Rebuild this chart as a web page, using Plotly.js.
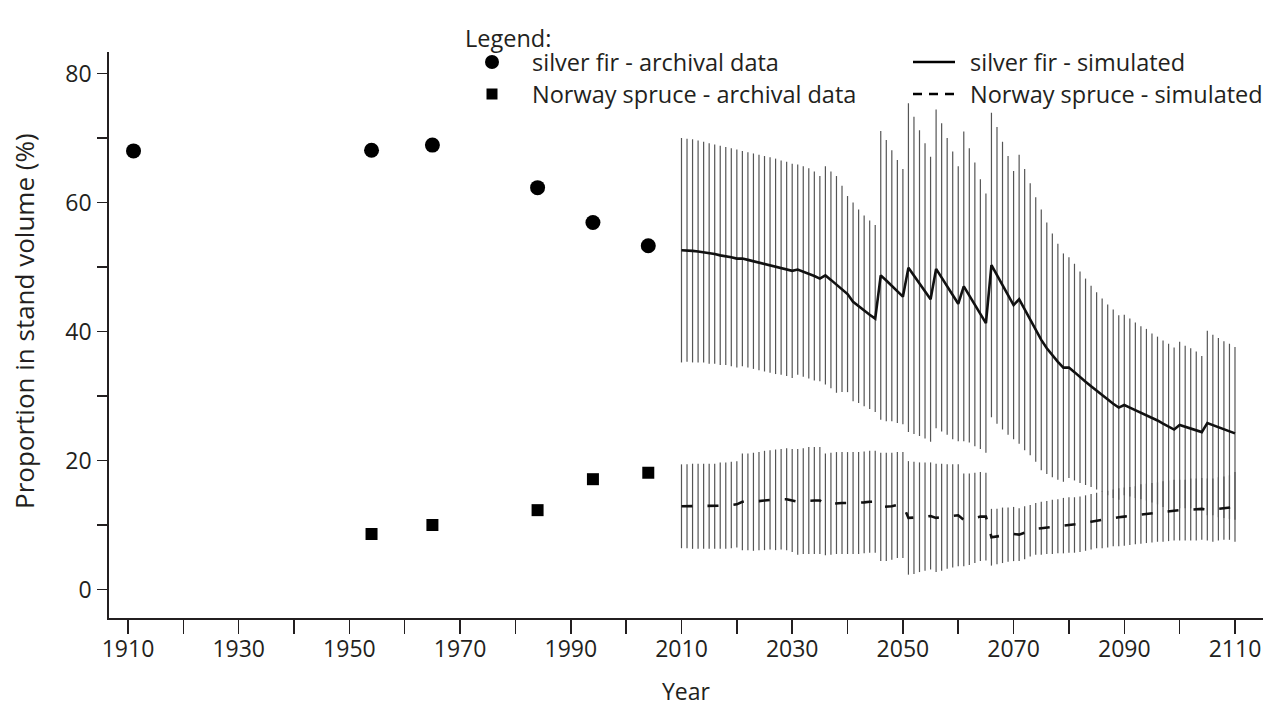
<!DOCTYPE html>
<html>
<head>
<meta charset="utf-8">
<script src="https://cdn.plot.ly/plotly-3.0.1.min.js"></script>
<style>
  html, body { margin: 0; padding: 0; background: #ffffff; }
  #chart { width: 1274px; height: 707px; }
</style>
</head>
<body>
<div id="chart"></div>
<script>
// Archival inventories (proportion of stand volume, %)
const firArchivalYears = [1911, 1954, 1965, 1984, 1994, 2004];
const firArchival = [68.0, 68.1, 68.9, 62.3, 56.9, 53.3];
const spruceArchivalYears = [1954, 1965, 1984, 1994, 2004];
const spruceArchival = [8.6, 10.0, 12.3, 17.1, 18.1];

// Simulation years 2010-2110
const simYears = [
  2010, 2011, 2012, 2013, 2014, 2015, 2016, 2017, 2018, 2019,
  2020, 2021, 2022, 2023, 2024, 2025, 2026, 2027, 2028, 2029,
  2030, 2031, 2032, 2033, 2034, 2035, 2036, 2037, 2038, 2039,
  2040, 2041, 2042, 2043, 2044, 2045, 2046, 2047, 2048, 2049,
  2050, 2051, 2052, 2053, 2054, 2055, 2056, 2057, 2058, 2059,
  2060, 2061, 2062, 2063, 2064, 2065, 2066, 2067, 2068, 2069,
  2070, 2071, 2072, 2073, 2074, 2075, 2076, 2077, 2078, 2079,
  2080, 2081, 2082, 2083, 2084, 2085, 2086, 2087, 2088, 2089,
  2090, 2091, 2092, 2093, 2094, 2095, 2096, 2097, 2098, 2099,
  2100, 2101, 2102, 2103, 2104, 2105, 2106, 2107, 2108, 2109,
  2110
];

// Silver fir, simulated mean and standard deviation
const firSim = [
  52.6, 52.6, 52.5, 52.4, 52.3, 52.1, 52.0, 51.8, 51.7, 51.5,
  51.3, 51.3, 51.1, 50.9, 50.7, 50.5, 50.3, 50.1, 49.9, 49.7,
  49.4, 49.6, 49.3, 49.0, 48.6, 48.2, 48.7, 48.0, 47.3, 46.6,
  45.8, 44.6, 43.9, 43.2, 42.6, 42.0, 48.7, 47.9, 47.1, 46.2,
  45.4, 49.9, 48.7, 47.5, 46.3, 45.0, 49.7, 48.4, 47.0, 45.6,
  44.3, 47.0, 45.6, 44.2, 42.7, 41.3, 50.3, 48.7, 47.1, 45.6,
  44.1, 45.0, 43.4, 41.9, 40.3, 38.7, 37.4, 36.3, 35.3, 34.4,
  34.4, 33.7, 32.9, 32.2, 31.5, 30.8, 30.1, 29.4, 28.8, 28.2,
  28.6, 28.2, 27.8, 27.4, 27.1, 26.6, 26.2, 25.7, 25.3, 24.8,
  25.5, 25.2, 25.0, 24.7, 24.4, 25.8, 25.5, 25.1, 24.8, 24.5,
  24.2
];
const firSimSd = [
  17.4, 17.3, 17.3, 17.2, 17.1, 17.1, 17.0, 17.0, 16.9, 16.9,
  16.9, 16.7, 16.7, 16.7, 16.7, 16.7, 16.7, 16.7, 16.6, 16.6,
  16.6, 16.3, 16.3, 16.3, 16.2, 15.9, 16.9, 16.8, 16.8, 16.0,
  15.2, 15.4, 15.0, 14.8, 14.6, 14.5, 22.4, 21.8, 21.0, 20.4,
  19.8, 25.5, 24.6, 23.7, 22.9, 22.1, 24.7, 23.9, 23.0, 22.3,
  21.3, 24.0, 22.8, 22.0, 20.9, 20.1, 23.6, 23.0, 22.3, 21.6,
  20.8, 22.4, 21.8, 21.1, 20.5, 20.2, 19.5, 18.9, 18.3, 17.7,
  17.1, 16.8, 16.4, 16.0, 15.6, 15.3, 15.0, 14.8, 14.6, 14.3,
  14.0, 13.8, 13.6, 13.4, 13.3, 13.1, 13.0, 12.9, 12.8, 12.7,
  12.9, 12.6, 12.4, 12.2, 11.8, 14.3, 14.0, 13.9, 13.7, 13.6,
  13.4
];

// Norway spruce, simulated mean and standard deviation
const spruceSim = [
  12.9, 12.9, 12.9, 12.9, 12.9, 12.9, 12.9, 13.0, 13.0, 13.1,
  13.2, 13.6, 13.6, 13.6, 13.7, 13.8, 13.9, 13.9, 14.0, 14.0,
  13.8, 13.6, 13.7, 13.8, 13.8, 13.8, 13.2, 13.3, 13.4, 13.4,
  13.4, 13.4, 13.4, 13.5, 13.6, 13.6, 12.8, 12.8, 12.9, 13.1,
  13.1, 11.1, 11.1, 11.2, 11.3, 11.4, 11.1, 11.2, 11.3, 11.4,
  11.5, 10.8, 10.9, 11.1, 11.3, 11.3, 8.1, 8.2, 8.4, 8.5,
  8.6, 8.5, 8.8, 9.1, 9.4, 9.5, 9.6, 9.7, 9.8, 9.9,
  10.0, 10.0, 10.1, 10.3, 10.5, 10.7, 10.8, 10.9, 11.1, 11.2,
  11.3, 11.4, 11.5, 11.7, 11.8, 11.9, 12.0, 12.1, 12.2, 12.3,
  12.3, 12.3, 12.4, 12.4, 12.5, 12.4, 12.3, 12.5, 12.6, 12.7,
  12.8
];
const spruceSimSd = [
  6.5, 6.5, 6.6, 6.6, 6.6, 6.6, 6.6, 6.7, 6.7, 6.7,
  6.7, 7.5, 7.5, 7.6, 7.6, 7.7, 7.7, 7.8, 7.8, 7.9,
  8.0, 8.2, 8.2, 8.3, 8.3, 8.3, 7.9, 7.9, 7.9, 7.9,
  7.9, 7.9, 7.9, 7.9, 7.9, 7.9, 8.4, 8.4, 8.3, 8.2,
  8.2, 8.8, 8.7, 8.5, 8.4, 8.3, 8.4, 8.3, 8.1, 8.0,
  7.9, 7.2, 7.1, 7.0, 6.9, 6.8, 4.4, 4.3, 4.3, 4.2,
  4.2, 4.1, 4.1, 4.0, 4.0, 4.1, 4.1, 4.2, 4.2, 4.3,
  4.3, 4.3, 4.3, 4.3, 4.3, 4.3, 4.4, 4.4, 4.4, 4.5,
  4.5, 4.5, 4.5, 4.6, 4.6, 4.6, 4.6, 4.7, 4.7, 4.7,
  4.7, 4.7, 4.8, 4.8, 4.8, 4.8, 4.9, 4.9, 4.9, 5.0,
  5.4
];

// Legend entries
const legendHeader = 'Legend:';
const legendLabels = [
  'silver fir - archival data',
  'Norway spruce - archival data',
  'silver fir - simulated',
  'Norway spruce - simulated'
];
const axisTitles = { x: 'Year', y: 'Proportion in stand volume (%)' };

// ---- page geometry (pixels) ----
const W = 1274, H = 707;
const M = { l: 109, r: 11, t: 52, b: 89 };
const PW = W - M.l - M.r, PH = H - M.t - M.b;
const px = x => (x - M.l) / PW;           // pixel x -> paper
const py = y => (H - M.b - y) / PH;       // pixel y -> paper

const INK = '#231f20';
const FONT = 'Open Sans, Noto Sans, sans-serif';
const BAR = '#555555';

const traces = [
  {
    x: simYears, y: firSim, type: 'scatter', mode: 'markers',
    marker: { size: 1, opacity: 0 },
    error_y: { type: 'data', array: firSimSd, symmetric: true, visible: true,
               color: BAR, thickness: 1.2, width: 0 },
    hoverinfo: 'skip', showlegend: false
  },
  {
    x: simYears, y: spruceSim, type: 'scatter', mode: 'markers',
    marker: { size: 1, opacity: 0 },
    error_y: { type: 'data', array: spruceSimSd, symmetric: true, visible: true,
               color: BAR, thickness: 1.2, width: 0 },
    hoverinfo: 'skip', showlegend: false
  },
  {
    x: simYears, y: firSim, type: 'scatter', mode: 'lines',
    name: legendLabels[2],
    line: { color: '#111111', width: 2.6 }
  },
  {
    x: simYears, y: spruceSim, type: 'scatter', mode: 'lines',
    name: legendLabels[3],
    line: { color: '#111111', width: 2.6, dash: '11px,15px' }
  },
  {
    x: firArchivalYears, y: firArchival, type: 'scatter', mode: 'markers',
    name: legendLabels[0],
    marker: { symbol: 'circle', size: 15, color: '#000000' }
  },
  {
    x: spruceArchivalYears, y: spruceArchival, type: 'scatter', mode: 'markers',
    name: legendLabels[1],
    marker: { symbol: 'square', size: 12, color: '#000000' }
  }
];

const tickFont = { family: FONT, size: 23, color: INK };
const legFont = { family: FONT, size: 23.5, color: INK };

// Hand-laid legend block above the plot
const shapes = [
  { type: 'circle', xref: 'paper', yref: 'paper', xsizemode: 'pixel', ysizemode: 'pixel',
    xanchor: px(492), yanchor: py(62), x0: -7, x1: 7, y0: -7, y1: 7,
    fillcolor: '#000', line: { width: 0 } },
  { type: 'rect', xref: 'paper', yref: 'paper', xsizemode: 'pixel', ysizemode: 'pixel',
    xanchor: px(492), yanchor: py(94), x0: -5.5, x1: 5.5, y0: -5.5, y1: 5.5,
    fillcolor: '#000', line: { width: 0 } },
  { type: 'line', xref: 'paper', yref: 'paper', x0: px(913), x1: px(955), y0: py(62), y1: py(62),
    line: { color: '#000', width: 2.6 } },
  { type: 'line', xref: 'paper', yref: 'paper', x0: px(913), x1: px(955), y0: py(94), y1: py(94),
    line: { color: '#000', width: 2.6, dash: '9px,7px' } }
];

const ann = (text, x, y, opts = {}) => Object.assign({
  text, xref: 'paper', yref: 'paper', x: px(x), y: py(y),
  xanchor: 'left', yanchor: 'middle', showarrow: false, font: legFont
}, opts);

const annotations = [
  ann(legendHeader, 463, 38),
  ann(legendLabels[0], 530, 62),
  ann(legendLabels[1], 530, 94),
  ann(legendLabels[2], 968, 62),
  ann(legendLabels[3], 968, 94),
  ann(axisTitles.y, 24, 321, { xanchor: 'center', textangle: -90, font: { family: FONT, size: 26, color: INK } })
];

const layout = {
  width: W, height: H,
  margin: M,
  paper_bgcolor: '#ffffff', plot_bgcolor: '#ffffff',
  showlegend: false,
  font: { family: FONT, color: INK },
  xaxis: {
    range: [1906.57, 2115.06],
    tickmode: 'linear', tick0: 1910, dtick: 20,
    ticks: 'outside', ticklen: 14, tickwidth: 1.5, tickcolor: INK,
    minor: { tick0: 1910, dtick: 10, ticks: 'outside', ticklen: 14, tickwidth: 1.5, tickcolor: INK, showgrid: false },
    showline: true, linecolor: INK, linewidth: 1.8,
    showgrid: false, zeroline: false,
    tickfont: tickFont, ticklabelstandoff: -4,
    title: { text: axisTitles.x, font: { family: FONT, size: 23, color: INK }, standoff: 20 }
  },
  yaxis: {
    range: [-4.42, 83.33],
    tickmode: 'linear', tick0: 0, dtick: 20,
    ticks: 'outside', ticklen: 10, tickwidth: 1.5, tickcolor: INK,
    minor: { tick0: 0, dtick: 10, ticks: 'outside', ticklen: 10, tickwidth: 1.5, tickcolor: INK, showgrid: false },
    showline: true, linecolor: INK, linewidth: 1.8,
    showgrid: false, zeroline: false,
    tickfont: tickFont, ticklabelstandoff: 1
  },
  shapes, annotations
};

Plotly.newPlot('chart', traces, layout, { staticPlot: true, displayModeBar: false });
</script>
</body>
</html>
